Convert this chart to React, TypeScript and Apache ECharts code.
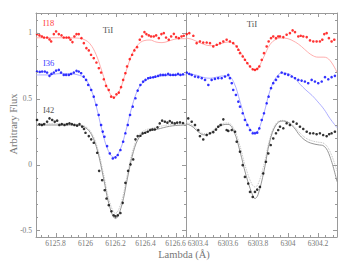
import React, { useEffect, useRef } from 'react';
import * as echarts from 'echarts';

// ---------- axis ranges & ticks ----------
const L_RANGE = [6125.67, 6126.67];
const R_RANGE = [6303.32, 6304.327];
const Y_RANGE = [-0.55, 1.15];

const LEFT_X_MAJOR = [6125.8, 6126, 6126.2, 6126.4, 6126.6];
const LEFT_X_MINOR = [6125.7, 6125.75, 6125.85, 6125.9, 6125.95, 6126.05, 6126.1, 6126.15, 6126.25, 6126.3, 6126.35, 6126.45, 6126.5, 6126.55, 6126.65];
const RIGHT_X_MAJOR = [6303.4, 6303.6, 6303.8, 6304, 6304.2];
const RIGHT_X_MINOR = [6303.35, 6303.45, 6303.5, 6303.55, 6303.65, 6303.7, 6303.75, 6303.85, 6303.9, 6303.95, 6304.05, 6304.1, 6304.15, 6304.25, 6304.3];
const Y_MAJOR = [-0.5, 0, 0.5, 1];
const Y_MINOR = [-0.4, -0.3, -0.2, -0.1, 0.1, 0.2, 0.3, 0.4, 0.6, 0.7, 0.8, 0.9, 1.1];

// ---------- left panel (6126.2 A) observed ----------
const L_RED_DOTS = [[6125.677,0.990],[6125.693,0.980],[6125.709,0.972],[6125.724,0.964],[6125.744,0.964],[6125.760,0.949],[6125.771,0.934],[6125.789,0.990],[6125.804,1.010],[6125.822,0.990],[6125.840,0.980],[6125.855,0.964],[6125.873,0.964],[6125.889,0.964],[6125.900,0.947],[6125.913,0.929],[6125.926,0.972],[6125.940,0.990],[6125.955,0.990],[6125.973,0.959],[6125.989,0.921],[6126.006,0.883],[6126.022,0.866],[6126.037,0.833],[6126.055,0.807],[6126.073,0.774],[6126.089,0.731],[6126.104,0.698],[6126.122,0.647],[6126.137,0.597],[6126.155,0.566],[6126.171,0.515],[6126.189,0.508],[6126.206,0.533],[6126.222,0.546],[6126.237,0.587],[6126.251,0.642],[6126.266,0.693],[6126.277,0.744],[6126.295,0.800],[6126.311,0.833],[6126.326,0.866],[6126.344,0.891],[6126.362,0.947],[6126.377,0.972],[6126.393,1.005],[6126.406,0.990],[6126.422,0.980],[6126.437,0.972],[6126.455,0.972],[6126.471,0.980],[6126.489,0.959],[6126.506,0.990],[6126.522,0.997],[6126.537,0.964],[6126.555,0.947],[6126.571,0.972],[6126.589,0.992],[6126.604,0.967],[6126.622,0.959],[6126.640,0.972],[6126.655,0.977]];
const L_BLUE_DOTS = [[6125.677,0.706],[6125.695,0.703],[6125.711,0.706],[6125.729,0.706],[6125.744,0.698],[6125.760,0.673],[6125.773,0.688],[6125.789,0.698],[6125.804,0.713],[6125.822,0.718],[6125.837,0.698],[6125.855,0.680],[6125.871,0.680],[6125.889,0.680],[6125.904,0.688],[6125.922,0.698],[6125.940,0.711],[6125.955,0.706],[6125.971,0.693],[6125.988,0.667],[6126.004,0.642],[6126.018,0.604],[6126.038,0.566],[6126.055,0.515],[6126.073,0.452],[6126.088,0.376],[6126.104,0.300],[6126.115,0.250],[6126.126,0.211],[6126.144,0.140],[6126.162,0.084],[6126.182,0.046],[6126.200,0.054],[6126.215,0.072],[6126.233,0.110],[6126.251,0.173],[6126.266,0.237],[6126.282,0.300],[6126.297,0.376],[6126.315,0.439],[6126.333,0.503],[6126.348,0.561],[6126.366,0.604],[6126.384,0.629],[6126.400,0.642],[6126.418,0.655],[6126.433,0.660],[6126.451,0.662],[6126.466,0.667],[6126.484,0.673],[6126.500,0.680],[6126.517,0.680],[6126.533,0.680],[6126.551,0.688],[6126.566,0.680],[6126.584,0.680],[6126.600,0.680],[6126.617,0.688],[6126.633,0.680],[6126.650,0.685]];
const L_BLACK_DOTS = [[6125.677,0.338],[6125.693,0.305],[6125.709,0.300],[6125.724,0.307],[6125.744,0.325],[6125.760,0.350],[6125.778,0.338],[6125.795,0.325],[6125.811,0.333],[6125.826,0.300],[6125.842,0.307],[6125.860,0.300],[6125.877,0.307],[6125.893,0.312],[6125.909,0.307],[6125.926,0.300],[6125.944,0.295],[6125.960,0.307],[6125.978,0.287],[6125.990,0.270],[6126.000,0.241],[6126.022,0.216],[6126.038,0.191],[6126.055,0.165],[6126.078,0.089],[6126.091,-0.048],[6126.111,-0.119],[6126.128,-0.195],[6126.140,-0.258],[6126.155,-0.309],[6126.173,-0.355],[6126.188,-0.385],[6126.200,-0.393],[6126.215,-0.385],[6126.233,-0.368],[6126.248,-0.291],[6126.266,-0.139],[6126.284,-0.048],[6126.300,0.001],[6126.318,0.039],[6126.333,0.191],[6126.348,0.216],[6126.366,0.218],[6126.381,0.236],[6126.398,0.241],[6126.415,0.249],[6126.431,0.262],[6126.446,0.266],[6126.462,0.266],[6126.480,0.282],[6126.495,0.312],[6126.511,0.333],[6126.529,0.325],[6126.546,0.318],[6126.562,0.330],[6126.577,0.318],[6126.595,0.312],[6126.611,0.318],[6126.630,0.320],[6126.650,0.315]];

// ---------- left panel synthetic (model) ----------
const L_RED_MODEL = [[6125.67,0.962],[6125.75,0.962],[6125.83,0.962],[6125.91,0.961],[6125.95,0.959],[6125.99,0.949],[6126.03,0.916],[6126.07,0.836],[6126.11,0.706],[6126.15,0.570],[6126.19,0.510],[6126.23,0.570],[6126.27,0.706],[6126.31,0.836],[6126.35,0.910],[6126.39,0.940],[6126.43,0.945],[6126.47,0.930],[6126.51,0.925],[6126.55,0.935],[6126.59,0.950],[6126.63,0.955],[6126.67,0.955]];
const L_BLUE_MODEL = [[6125.67,0.680],[6125.75,0.680],[6125.83,0.690],[6125.91,0.688],[6125.95,0.680],[6125.99,0.660],[6126.03,0.590],[6126.07,0.450],[6126.11,0.260],[6126.15,0.110],[6126.19,0.055],[6126.23,0.110],[6126.27,0.260],[6126.31,0.440],[6126.35,0.570],[6126.39,0.630],[6126.43,0.655],[6126.47,0.665],[6126.51,0.672],[6126.55,0.675],[6126.59,0.678],[6126.63,0.680],[6126.67,0.680]];
const L_BLACK_MODEL = [[6125.67,0.300],[6125.75,0.300],[6125.83,0.300],[6125.91,0.300],[6125.96,0.296],[6126.00,0.280],[6126.04,0.227],[6126.08,0.103],[6126.12,-0.102],[6126.16,-0.316],[6126.20,-0.410],[6126.24,-0.316],[6126.28,-0.102],[6126.32,0.100],[6126.36,0.210],[6126.40,0.245],[6126.44,0.258],[6126.48,0.268],[6126.52,0.280],[6126.56,0.290],[6126.60,0.296],[6126.67,0.300]];
const L_BLACK_MODEL2 = [[6125.67,0.310],[6125.75,0.310],[6125.83,0.310],[6125.91,0.308],[6125.96,0.302],[6126.00,0.288],[6126.04,0.240],[6126.08,0.125],[6126.12,-0.070],[6126.16,-0.280],[6126.20,-0.370],[6126.24,-0.280],[6126.28,-0.070],[6126.32,0.125],[6126.36,0.230],[6126.40,0.262],[6126.44,0.275],[6126.48,0.285],[6126.52,0.295],[6126.56,0.302],[6126.60,0.306],[6126.67,0.310]];

// ---------- right panel (6303.8 A) observed ----------
const R_RED_DOTS = [[6303.325,0.990],[6303.342,0.997],[6303.369,0.977],[6303.391,0.921],[6303.413,0.934],[6303.435,0.926],[6303.458,0.926],[6303.480,0.921],[6303.502,0.896],[6303.525,0.909],[6303.547,0.921],[6303.569,0.934],[6303.591,0.947],[6303.613,0.934],[6303.635,0.921],[6303.658,0.896],[6303.669,0.871],[6303.680,0.845],[6303.698,0.820],[6303.713,0.795],[6303.729,0.769],[6303.747,0.744],[6303.765,0.723],[6303.780,0.718],[6303.795,0.726],[6303.809,0.744],[6303.825,0.795],[6303.840,0.845],[6303.858,0.896],[6303.871,0.934],[6303.887,0.959],[6303.902,0.972],[6303.920,0.959],[6303.935,0.972],[6303.947,0.972],[6303.969,0.967],[6303.991,0.985],[6304.013,0.997],[6304.031,1.018],[6304.047,1.005],[6304.069,0.972],[6304.085,0.977],[6304.102,0.972],[6304.125,0.967],[6304.147,0.942],[6304.169,0.934],[6304.191,0.934],[6304.213,0.934],[6304.229,0.947],[6304.242,0.990],[6304.258,0.997],[6304.273,0.959],[6304.291,0.934],[6304.309,0.947]];
const R_BLUE_DOTS = [[6303.325,0.698],[6303.342,0.688],[6303.358,0.680],[6303.380,0.668],[6303.402,0.663],[6303.425,0.655],[6303.447,0.642],[6303.469,0.604],[6303.491,0.642],[6303.513,0.650],[6303.535,0.655],[6303.558,0.655],[6303.580,0.668],[6303.602,0.680],[6303.613,0.655],[6303.625,0.617],[6303.635,0.566],[6303.653,0.528],[6303.669,0.477],[6303.680,0.439],[6303.698,0.389],[6303.713,0.338],[6303.729,0.300],[6303.747,0.262],[6303.765,0.237],[6303.780,0.237],[6303.795,0.242],[6303.809,0.274],[6303.825,0.338],[6303.840,0.389],[6303.858,0.465],[6303.871,0.515],[6303.887,0.579],[6303.902,0.617],[6303.920,0.642],[6303.935,0.668],[6303.958,0.698],[6303.980,0.688],[6304.002,0.680],[6304.025,0.668],[6304.047,0.655],[6304.069,0.642],[6304.091,0.637],[6304.113,0.630],[6304.135,0.617],[6304.158,0.642],[6304.180,0.630],[6304.202,0.617],[6304.225,0.630],[6304.247,0.663],[6304.269,0.647],[6304.291,0.663],[6304.313,0.673]];
const R_BLACK_DOTS = [[6303.335,0.350],[6303.358,0.325],[6303.380,0.300],[6303.402,0.262],[6303.413,0.215],[6303.435,0.190],[6303.458,0.224],[6303.480,0.237],[6303.502,0.245],[6303.520,0.265],[6303.535,0.287],[6303.551,0.300],[6303.569,0.343],[6303.591,0.262],[6303.602,0.255],[6303.625,0.262],[6303.647,0.249],[6303.658,0.173],[6303.680,0.097],[6303.698,-0.005],[6303.713,-0.094],[6303.735,-0.144],[6303.747,-0.208],[6303.765,-0.246],[6303.780,-0.208],[6303.795,-0.190],[6303.813,-0.170],[6303.835,-0.068],[6303.853,0.021],[6303.869,0.084],[6303.885,0.148],[6303.902,0.198],[6303.920,0.237],[6303.935,0.262],[6303.947,0.287],[6303.969,0.275],[6303.991,0.313],[6304.013,0.300],[6304.035,0.325],[6304.058,0.310],[6304.080,0.287],[6304.102,0.270],[6304.125,0.249],[6304.147,0.237],[6304.169,0.237],[6304.191,0.230],[6304.213,0.237],[6304.235,0.224],[6304.258,0.215],[6304.275,0.230],[6304.291,0.237],[6304.313,0.249]];

// ---------- right panel synthetic (model) ----------
const R_RED_MODEL = [[6303.32,0.960],[6303.36,0.950],[6303.40,0.930],[6303.44,0.912],[6303.48,0.902],[6303.52,0.905],[6303.56,0.920],[6303.60,0.930],[6303.64,0.915],[6303.68,0.860],[6303.72,0.785],[6303.76,0.728],[6303.78,0.720],[6303.80,0.730],[6303.84,0.820],[6303.88,0.910],[6303.92,0.950],[6303.96,0.960],[6304.00,0.955],[6304.04,0.935],[6304.08,0.905],[6304.12,0.865],[6304.16,0.830],[6304.20,0.815],[6304.24,0.815],[6304.28,0.790],[6304.327,0.700]];
const R_BLUE_MODEL = [[6303.32,0.690],[6303.36,0.685],[6303.40,0.675],[6303.44,0.660],[6303.48,0.655],[6303.52,0.662],[6303.56,0.672],[6303.60,0.672],[6303.64,0.620],[6303.68,0.480],[6303.72,0.330],[6303.76,0.252],[6303.78,0.245],[6303.80,0.255],[6303.84,0.390],[6303.88,0.560],[6303.92,0.660],[6303.96,0.695],[6304.00,0.690],[6304.04,0.660],[6304.08,0.610],[6304.12,0.565],[6304.16,0.525],[6304.20,0.475],[6304.24,0.420],[6304.28,0.350],[6304.327,0.280]];
const R_BLACK_MODEL = [[6303.32,0.310],[6303.36,0.290],[6303.40,0.250],[6303.44,0.225],[6303.48,0.235],[6303.52,0.270],[6303.56,0.300],[6303.60,0.305],[6303.64,0.250],[6303.68,0.100],[6303.72,-0.080],[6303.76,-0.220],[6303.78,-0.258],[6303.80,-0.230],[6303.84,-0.050],[6303.88,0.180],[6303.92,0.300],[6303.96,0.330],[6304.00,0.320],[6304.04,0.280],[6304.08,0.220],[6304.12,0.180],[6304.16,0.160],[6304.20,0.150],[6304.24,0.140],[6304.28,0.060],[6304.327,-0.130]];
const R_BLACK_MODEL2 = [[6303.32,0.320],[6303.36,0.300],[6303.40,0.260],[6303.44,0.235],[6303.48,0.245],[6303.52,0.280],[6303.56,0.310],[6303.60,0.315],[6303.64,0.270],[6303.68,0.140],[6303.72,-0.030],[6303.76,-0.150],[6303.78,-0.170],[6303.80,-0.150],[6303.84,0.000],[6303.88,0.200],[6303.92,0.310],[6303.96,0.335],[6304.00,0.325],[6304.04,0.290],[6304.08,0.240],[6304.12,0.200],[6304.16,0.180],[6304.20,0.170],[6304.24,0.160],[6304.28,0.100],[6304.327,-0.050]];

const STAR_LABELS = ['I18', 'I36', 'I42'];
const LINE_LABEL = 'TiI';

const FRAME = '#9a9a9a';
const TXT = '#777';
const FONT = 'Liberation Serif';

const fmt = (v: number) => String(Math.round(v * 1000) / 1000);

function tickData(xMajor: number[], xMinor: number[]) {
  const d: number[][] = [];
  xMajor.forEach((v) => d.push([0, v, 4]));
  xMinor.forEach((v) => d.push([0, v, 2]));
  Y_MAJOR.forEach((v) => d.push([1, v, 4]));
  Y_MINOR.forEach((v) => d.push([1, v, 2]));
  return d;
}

function tickSeries(gi: number, xr: number[], xMajor: number[], xMinor: number[], leftTicks: boolean) {
  return {
    type: 'custom',
    xAxisIndex: gi * 2,
    yAxisIndex: gi * 2,
    clip: false,
    silent: true,
    z: 10,
    data: tickData(xMajor, xMinor),
    renderItem: (_p: any, api: any) => {
      const kind = api.value(0);
      const v = api.value(1);
      const len = api.value(2);
      const st = { stroke: FRAME, lineWidth: 1 };
      if (kind === 0) {
        const b = api.coord([v, Y_RANGE[0]]);
        const t = api.coord([v, Y_RANGE[1]]);
        const x = Math.round(b[0]) + 0.5;
        return {
          type: 'group',
          children: [
            { type: 'line', shape: { x1: x, y1: b[1], x2: x, y2: b[1] - len }, style: st },
            { type: 'line', shape: { x1: x, y1: t[1], x2: x, y2: t[1] + len }, style: st },
          ],
        };
      }
      const l = api.coord([xr[0], v]);
      const r = api.coord([xr[1], v]);
      const y = Math.round(l[1]) + 0.5;
      const children: any[] = [
        { type: 'line', shape: { x1: r[0], y1: y, x2: r[0] - len, y2: y }, style: st },
      ];
      if (leftTicks) children.push({ type: 'line', shape: { x1: l[0], y1: y, x2: l[0] + len, y2: y }, style: st });
      return { type: 'group', children };
    },
  };
}

function xAxes(gi: number, xr: number[], labels: number[]) {
  const line = { show: true, onZero: false, lineStyle: { color: FRAME, width: 1 } };
  return [
    {
      type: 'value', gridIndex: gi, position: 'bottom', min: xr[0], max: xr[1],
      axisLine: line, axisTick: { show: false }, splitLine: { show: false },
      axisLabel: { customValues: labels, formatter: fmt, fontSize: 7.5, color: TXT, fontFamily: FONT, margin: 2 },
    },
    {
      type: 'value', gridIndex: gi, position: 'top', min: xr[0], max: xr[1],
      axisLine: line, axisTick: { show: false }, splitLine: { show: false }, axisLabel: { show: false },
    },
  ];
}

function yAxes(gi: number, withLabels: boolean) {
  const line = { show: true, onZero: false, lineStyle: { color: FRAME, width: 1 } };
  return [
    {
      type: 'value', gridIndex: gi, position: 'left', min: Y_RANGE[0], max: Y_RANGE[1],
      axisLine: line, axisTick: { show: false }, splitLine: { show: false },
      axisLabel: withLabels
        ? { customValues: Y_MAJOR, formatter: fmt, fontSize: 7.5, color: TXT, fontFamily: FONT, margin: 4 }
        : { show: false },
    },
    {
      type: 'value', gridIndex: gi, position: 'right', min: Y_RANGE[0], max: Y_RANGE[1],
      axisLine: line, axisTick: { show: false }, splitLine: { show: false }, axisLabel: { show: false },
    },
  ];
}

function lineS(gi: number, data: number[][], color: string, dotted = false) {
  return {
    type: 'line', xAxisIndex: gi * 2, yAxisIndex: gi * 2, data, smooth: 0.4, showSymbol: false,
    symbol: 'none', lineStyle: { color, width: 0.9, type: dotted ? 'dotted' : 'solid' }, z: 2,
  };
}

function dotS(gi: number, data: number[][], color: string) {
  return {
    type: 'scatter', xAxisIndex: gi * 2, yAxisIndex: gi * 2, data, symbol: 'circle',
    symbolSize: 2.6, itemStyle: { color }, z: 3,
  };
}

function txt(text: string, x: number, y: number, color: string, size: number, align = 'left', rotation = 0) {
  return {
    type: 'text', x, y, rotation, silent: true,
    style: {
      text, fill: color, fontSize: size, fontFamily: FONT,
      align, textAlign: align, verticalAlign: 'middle', textVerticalAlign: 'middle',
    },
  };
}

export default function App() {
  const ref = useRef<HTMLDivElement>(null);
  useEffect(() => {
    const chart = echarts.init(ref.current!, null, { renderer: 'svg' });
    const option: any = {
      animation: false,
      backgroundColor: '#fff',
      grid: [
        { left: 36, top: 13, width: 150, height: 224 },
        { left: 186, top: 13, width: 151, height: 224 },
      ],
      xAxis: [...xAxes(0, L_RANGE, LEFT_X_MAJOR), ...xAxes(1, R_RANGE, RIGHT_X_MAJOR)],
      yAxis: [...yAxes(0, true), ...yAxes(1, false)],
      series: [
        lineS(0, L_RED_MODEL, '#ffa5a5'),
        lineS(0, L_BLUE_MODEL, '#a5a5ff'),
        lineS(0, L_BLACK_MODEL2, '#b5b5b5', true),
        lineS(0, L_BLACK_MODEL, '#8a8a8a'),
        lineS(1, R_RED_MODEL, '#ffa5a5'),
        lineS(1, R_BLUE_MODEL, '#a5a5ff'),
        lineS(1, R_BLACK_MODEL2, '#b5b5b5', true),
        lineS(1, R_BLACK_MODEL, '#8a8a8a'),
        dotS(0, L_RED_DOTS, '#ff0000'),
        dotS(0, L_BLUE_DOTS, '#0000ff'),
        dotS(0, L_BLACK_DOTS, '#000000'),
        dotS(1, R_RED_DOTS, '#ff0000'),
        dotS(1, R_BLUE_DOTS, '#0000ff'),
        dotS(1, R_BLACK_DOTS, '#000000'),
        tickSeries(0, L_RANGE, LEFT_X_MAJOR, LEFT_X_MINOR, true),
        tickSeries(1, R_RANGE, RIGHT_X_MAJOR, RIGHT_X_MINOR, false),
      ],
      graphic: [
        txt(STAR_LABELS[0], 43, 23, '#ff4040', 8.5),
        txt(STAR_LABELS[1], 43, 63, '#4040ff', 8.5),
        txt(STAR_LABELS[2], 43, 110, '#555', 8.5),
        txt(LINE_LABEL, 108, 30, '#555', 9, 'center'),
        txt(LINE_LABEL, 252, 24, '#555', 9, 'center'),
        txt('Arbitrary Flux', 13, 124, TXT, 10.5, 'center', Math.PI / 2),
        txt('Lambda (Å)', 184, 254, TXT, 10.5, 'center'),
      ],
    };
    chart.setOption(option);
    return () => chart.dispose();
  }, []);
  return <div ref={ref} style={{ position: 'fixed', left: 0, top: 0, width: 354, height: 266 }} />;
}
